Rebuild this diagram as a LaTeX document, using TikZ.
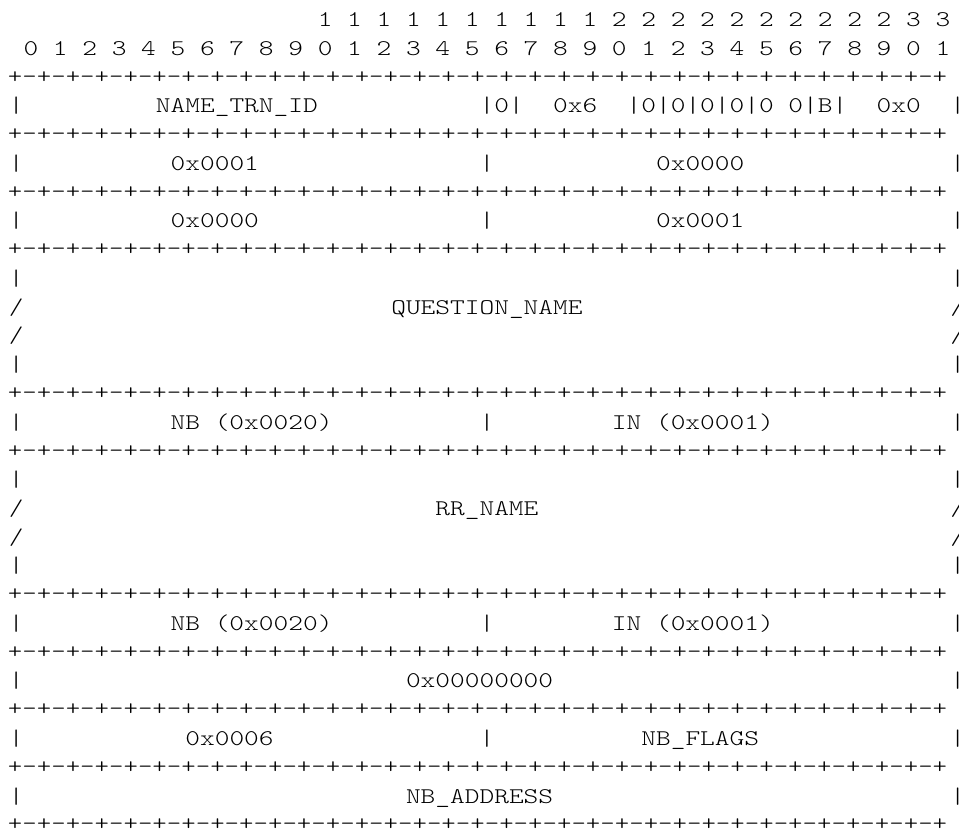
\documentclass[tikz,border=0pt]{standalone}
\usepackage{graphicx}
\usetikzlibrary{positioning}

% typewriter face, stretched to the pitch of the drawing
\newcommand{\mono}{\fontsize{22.4}{22.4}\ttfamily\fontseries{l}\selectfont}
\newcommand{\wide}[1]{\scalebox{1.251}[1]{#1}}
\newcommand{\sepwide}[1]{\scalebox{1.2287}[1]{#1}}
% column start and row baseline / middle, in px
\newcommand{\cx}[1]{(8.645+14.71*(#1))}
\newcommand{\rb}[1]{(26.5+28.76*(#1))}
\newcommand{\rc}[1]{(19.7+28.76*(#1))}
\newcommand{\sepline}{+-+-+-+-+-+-+-+-+-+-+-+-+-+-+-+-+-+-+-+-+-+-+-+-+-+-+-+-+-+-+-+-+}

\begin{document}
\begin{tikzpicture}[
    x=1pt, y=-1pt,
    txt/.style={anchor=base west, inner sep=0pt, font=\mono},
    sepln/.style={anchor=west, inner sep=0pt, font=\mono}
  ]
    \fill[white] (0,0) rectangle (959,831);
    \useasboundingbox (0,0) rectangle (959,831);

    % bit numbers
    \foreach \b in {10,...,31}{
      \pgfmathtruncatemacro{\tn}{int(\b/10)}
      \node[txt] (tens\b) at ({\cx{2*\b+1}},{\rb{0}}) {\wide{\tn}};
    }
    \foreach \b in {0,...,31}{
      \pgfmathtruncatemacro{\un}{mod(\b,10)}
      \node[txt] (unit\b) at ({\cx{2*\b+1}},{\rb{1}}) {\wide{\un}};
    }

    % +-+-+ rules
    \foreach \r in {2,4,6,8,13,15,20,22,24,26,28}
      \node[sepln] (sep\r) at (7.775,{\rc{\r}}) {\sepwide{\sepline}};

    % outer edges
    \foreach \r in {3,5,7,9,12,14,16,19,21,23,25,27}{
      \node[txt] (left\r) at ({\cx{0}},{\rb{\r}}) {\wide{|}};
      \node[txt] (right\r) at ({\cx{64}},{\rb{\r}}) {\wide{|}};
    }
    \foreach \r in {10,11,17,18}{
      \node[txt] (left\r) at ({\cx{0}},{\rb{\r}}) {\wide{/}};
      \node[txt] (right\r) at ({\cx{64}},{\rb{\r}}) {\wide{/}};
    }
    % half-word dividers
    \foreach \r in {3,5,7,14,21,25}
      \node[txt] (mid\r) at ({\cx{32}},{\rb{\r}}) {\wide{|}};

    % header word
    \node[txt] (trnid) at ({\cx{10}},{\rb{3}}) {\wide{NAME\_TRN\_ID}};
    \node[txt] (rflag) at ({\cx{33}},{\rb{3}}) {\wide{0}};
    \node[txt] (opcode) at ({\cx{37}},{\rb{3}}) {\wide{0x6}};
    \node[txt] (rcode) at ({\cx{59}},{\rb{3}}) {\wide{0x0}};
    \foreach \c in {34,42,44,46,48,50,54,56}
      \node[txt] (bar\c) at ({\cx{\c}},{\rb{3}}) {\wide{|}};
    \foreach \c in {43,45,47,49,51,53}
      \node[txt] (flag\c) at ({\cx{\c}},{\rb{3}}) {\wide{0}};
    \node[txt] (bflag) at ({\cx{55}},{\rb{3}}) {\wide{B}};

    % counts
    \node[txt] (qdcount) at ({\cx{11}},{\rb{5}}) {\wide{0x0001}};
    \node[txt] (ancount) at ({\cx{44}},{\rb{5}}) {\wide{0x0000}};
    \node[txt] (nscount) at ({\cx{11}},{\rb{7}}) {\wide{0x0000}};
    \node[txt] (arcount) at ({\cx{44}},{\rb{7}}) {\wide{0x0001}};

    % question
    \node[txt] (qname) at ({\cx{26}},{\rb{10}}) {\wide{QUESTION\_NAME}};
    \node[txt] (qtype) at ({\cx{11}},{\rb{14}}) {\wide{NB (0x0020)}};
    \node[txt] (qclass) at ({\cx{41}},{\rb{14}}) {\wide{IN (0x0001)}};

    % additional record
    \node[txt] (rrname) at ({\cx{29}},{\rb{17}}) {\wide{RR\_NAME}};
    \node[txt] (rrtype) at ({\cx{11}},{\rb{21}}) {\wide{NB (0x0020)}};
    \node[txt] (rrclass) at ({\cx{41}},{\rb{21}}) {\wide{IN (0x0001)}};
    \node[txt] (ttl) at ({\cx{27}},{\rb{23}}) {\wide{0x00000000}};
    \node[txt] (rdlength) at ({\cx{12}},{\rb{25}}) {\wide{0x0006}};
    \node[txt] (nbflags) at ({\cx{43}},{\rb{25}}) {\wide{NB\_FLAGS}};
    \node[txt] (nbaddr) at ({\cx{27}},{\rb{27}}) {\wide{NB\_ADDRESS}};
  \end{tikzpicture}
\end{document}
